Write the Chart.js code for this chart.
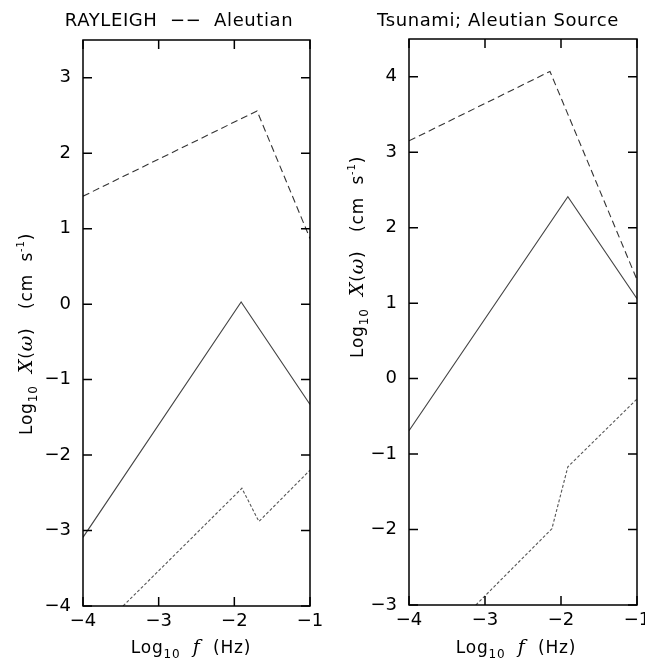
<!DOCTYPE html>
<html>
<head>
<meta charset="utf-8">
<script src="https://cdn.jsdelivr.net/npm/chart.js@4/dist/chart.umd.min.js"></script>
<style>
  body { margin: 0; background: #fff; }
  #wrap { position: relative; width: 645px; height: 662px; }
  canvas { position: absolute; top: 0; }
  #rayleigh { left: 0; }
  #tsunami { left: 330px; }
</style>
</head>
<body>
<div id="wrap">
  <canvas id="rayleigh" width="330" height="662"></canvas>
  <canvas id="tsunami" width="315" height="662"></canvas>
</div>
<script>
// log10 f (Hz) / log10 X(w) pairs for each curve
const rayleighUpperF = [-4, -1.70, -1];
const rayleighUpperX = [1.43, 2.56, 0.87];
const rayleighMidF = [-4, -1.91, -1];
const rayleighMidX = [-3.09, 0.03, -1.33];
const rayleighLowF = [-3.47, -1.90, -1.675, -1];
const rayleighLowX = [-4, -2.44, -2.88, -2.20];

const tsunamiUpperF = [-4, -2.145, -1];
const tsunamiUpperX = [3.15, 4.07, 1.31];
const tsunamiMidF = [-4, -1.91, -1];
const tsunamiMidX = [-0.69, 2.41, 1.06];
const tsunamiLowF = [-3.12, -2.12, -1.91, -1];
const tsunamiLowX = [-3, -1.99, -1.17, -0.27];

const freqRange = [-4, -1];
const rayleighRange = [-4, 3.5];
const tsunamiRange = [-3, 4.5];

const SANS = '"DejaVu Sans", Arial, sans-serif';
const SERIF = '"DejaVu Serif", "Liberation Serif", serif';

function pairs(xs, ys) {
  return xs.map((x, i) => ({ x: x, y: ys[i] }));
}

function minus(v) {
  return String(v).replace('-', '\u2212');
}

// draw a row of text pieces (different fonts / offsets) centred on 0
function drawRuns(ctx, runs, spacing) {
  ctx.letterSpacing = (spacing || 0) + 'px';
  let total = 0;
  runs.forEach(r => { ctx.font = r.font; total += ctx.measureText(r.t).width; });
  let x = -total / 2;
  runs.forEach(r => {
    ctx.font = r.font;
    ctx.fillText(r.t, x, r.dy || 0);
    x += ctx.measureText(r.t).width;
  });
  ctx.letterSpacing = '0px';
}

const yLabelRuns = [
  { t: 'Log', font: '17px ' + SANS },
  { t: '10', font: '12px ' + SANS, dy: 5 },
  { t: '  ', font: '17px ' + SANS },
  { t: 'X', font: 'italic 19px ' + SERIF },
  { t: '(', font: '17px ' + SANS },
  { t: '\u03c9', font: 'italic 19px ' + SERIF },
  { t: ')   (cm  s', font: '17px ' + SANS },
  { t: '-1', font: '10px ' + SANS, dy: -8 },
  { t: ')', font: '17px ' + SANS }
];

const xLabelRuns = [
  { t: 'Log', font: '17px ' + SANS },
  { t: '10', font: '12px ' + SANS, dy: 5 },
  { t: '  ', font: '17px ' + SANS },
  { t: 'f', font: 'italic 19px ' + SERIF },
  { t: '  (Hz)', font: '17px ' + SANS }
];

// frame, inward ticks and the text around each panel
const panelDecor = {
  id: 'panelDecor',
  afterDraw(chart, args, opts) {
    const ctx = chart.ctx;
    const a = chart.chartArea;
    const xs = chart.scales.x;
    const ys = chart.scales.y;
    const tl = 9;
    ctx.save();
    ctx.strokeStyle = '#000';
    ctx.lineWidth = 1.5;
    ctx.strokeRect(a.left, a.top, a.right - a.left, a.bottom - a.top);
    ctx.beginPath();
    xs.ticks.forEach(t => {
      const px = xs.getPixelForValue(t.value);
      ctx.moveTo(px, a.bottom); ctx.lineTo(px, a.bottom - tl);
      ctx.moveTo(px, a.top); ctx.lineTo(px, a.top + tl);
    });
    ys.ticks.forEach(t => {
      const py = ys.getPixelForValue(t.value);
      ctx.moveTo(a.left, py); ctx.lineTo(a.left + tl, py);
      ctx.moveTo(a.right, py); ctx.lineTo(a.right - tl, py);
    });
    ctx.stroke();

    ctx.fillStyle = '#000';
    ctx.textBaseline = 'alphabetic';
    ctx.textAlign = 'left';

    ctx.save();
    ctx.translate(opts.titleX, 26);
    drawRuns(ctx, [{ t: opts.title, font: '18px ' + SANS }], 0.6);
    ctx.restore();

    ctx.save();
    ctx.translate(opts.xLabelX, 653);
    drawRuns(ctx, xLabelRuns, 0.8);
    ctx.restore();

    ctx.save();
    ctx.translate(opts.yLabelX, opts.yLabelY);
    ctx.rotate(-Math.PI / 2);
    drawRuns(ctx, yLabelRuns, 0.8);
    ctx.restore();

    ctx.restore();
  }
};

function makePanel(id, series, yRange, pad, yWidth, xHeight, decor) {
  const styles = [
    { borderColor: '#333', borderDash: [7, 4] },
    { borderColor: '#444', borderDash: [] },
    { borderColor: '#555', borderDash: [3, 2] }
  ];
  return new Chart(document.getElementById(id), {
    type: 'line',
    data: {
      datasets: series.map((s, i) => ({
        data: s,
        borderColor: styles[i].borderColor,
        borderDash: styles[i].borderDash,
        borderWidth: 1.1,
        pointRadius: 0,
        tension: 0,
        fill: false
      }))
    },
    options: {
      responsive: false,
      animation: false,
      layout: { padding: pad },
      plugins: {
        legend: { display: false },
        title: { display: false },
        tooltip: { enabled: false },
        panelDecor: decor
      },
      scales: {
        x: {
          type: 'linear',
          min: freqRange[0],
          max: freqRange[1],
          grid: { display: false, drawTicks: false },
          border: { display: false },
          ticks: {
            stepSize: 1,
            includeBounds: false,
            maxRotation: 0,
            padding: 5,
            color: '#000',
            font: { family: SANS, size: 18 },
            callback: v => minus(v)
          },
          afterFit: s => { s.height = xHeight; s.paddingLeft = 0; s.paddingRight = 0; }
        },
        y: {
          type: 'linear',
          min: yRange[0],
          max: yRange[1],
          grid: { display: false, drawTicks: false },
          border: { display: false },
          ticks: {
            stepSize: 1,
            includeBounds: false,
            padding: 12,
            color: '#000',
            font: { family: SANS, size: 18 },
            callback: v => minus(v)
          },
          afterFit: s => { s.width = yWidth; s.paddingTop = 0; s.paddingBottom = 0; }
        }
      }
    },
    plugins: [panelDecor]
  });
}

makePanel('rayleigh',
  [pairs(rayleighUpperF, rayleighUpperX), pairs(rayleighMidF, rayleighMidX), pairs(rayleighLowF, rayleighLowX)],
  rayleighRange,
  { top: 40, right: 20, left: 0, bottom: 0 }, 83, 56,
  { title: 'RAYLEIGH  \u2212\u2212  Aleutian', titleX: 179, xLabelX: 191, yLabelX: 32, yLabelY: 334 });

makePanel('tsunami',
  [pairs(tsunamiUpperF, tsunamiUpperX), pairs(tsunamiMidF, tsunamiMidX), pairs(tsunamiLowF, tsunamiLowX)],
  tsunamiRange,
  { top: 39, right: 8, left: 0, bottom: 0 }, 79, 57,
  { title: 'Tsunami; Aleutian Source', titleX: 168, xLabelX: 186, yLabelX: 33, yLabelY: 257 });
</script>
</body>
</html>
